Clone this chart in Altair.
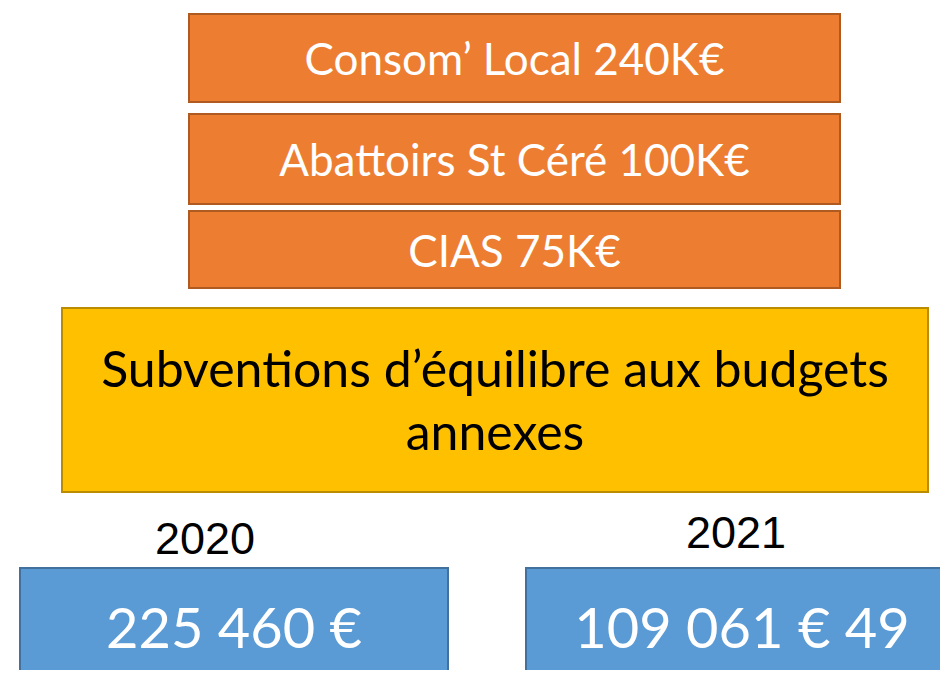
import altair as alt
import pandas as pd

# ---- content ----
orange_labels = ["Consom’ Local 240K€", "Abattoirs St Céré 100K€", "CIAS 75K€"]
header_lines = ["Subventions d’équilibre aux budgets", "annexes"]
years = ["2020", "2021"]
amounts = ["225 460 €", "109 061 € 49"]

# ---- layout (reference pixel coordinates) ----
orange_rows = [(14, 102, 75), (114, 204, 176), (211, 288, 267)]  # top, bottom, baseline
header_base = [387, 450]
year_pos = [(205, 554), (736, 548)]
blue_cols = [(20, 448, 234), (526, 960, 742)]

ORANGE, ORANGE_S = "#ED7D31", "#AE5A21"
YELLOW, YELLOW_S = "#FFC000", "#BC8C00"
BLUE, BLUE_S = "#5B9BD5", "#41719C"

box_rows = []
for (t, b, _) in orange_rows:
    box_rows.append(dict(x0=189, x1=840, y0=t, y1=b, fill=ORANGE, stroke=ORANGE_S))
box_rows.append(dict(x0=62, x1=928, y0=308, y1=492, fill=YELLOW, stroke=YELLOW_S))
for (l, r, _) in blue_cols:
    box_rows.append(dict(x0=l, x1=r, y0=568, y1=700, fill=BLUE, stroke=BLUE_S))
boxes = pd.DataFrame(box_rows)

XS = alt.Scale(domain=[8, 940], nice=False, zero=False)
YS = alt.Scale(domain=[8, 670], nice=False, zero=False, reverse=True)

rects = alt.Chart(boxes).mark_rect(strokeWidth=2, clip=True).encode(
    x=alt.X("x0:Q", scale=XS, axis=None),
    x2="x1:Q",
    y=alt.Y("y0:Q", scale=YS, axis=None),
    y2="y1:Q",
    fill=alt.Fill("fill:N", scale=None),
    stroke=alt.Stroke("stroke:N", scale=None),
)

def text_layer(labels, xs, ys, font, size, color):
    df = pd.DataFrame({"label": labels, "x": xs, "y": ys})
    return alt.Chart(df).mark_text(
        font=font, fontSize=size, color=color, align="center", baseline="alphabetic"
    ).encode(
        x=alt.X("x:Q", scale=XS, axis=None),
        y=alt.Y("y:Q", scale=YS, axis=None),
        text="label:N",
    )

t_orange = text_layer(orange_labels, [514.5] * 3, [r[2] for r in orange_rows], "Lato", 44, "white")
t_header = text_layer(header_lines, [495, 495], header_base, "Lato", 50, "black")
t_years = text_layer(years, [p[0] for p in year_pos], [p[1] for p in year_pos], "Liberation Sans", 45, "black")
t_amounts = text_layer(amounts, [c[2] for c in blue_cols], [648, 648], "Lato", 56, "white")

chart = alt.layer(rects, t_orange, t_header, t_years, t_amounts).properties(
    width=932, height=662, padding=0, autosize="none"
).configure_view(stroke=None)

chart.save("out.html", embed_options={"renderer": "svg", "actions": False})
